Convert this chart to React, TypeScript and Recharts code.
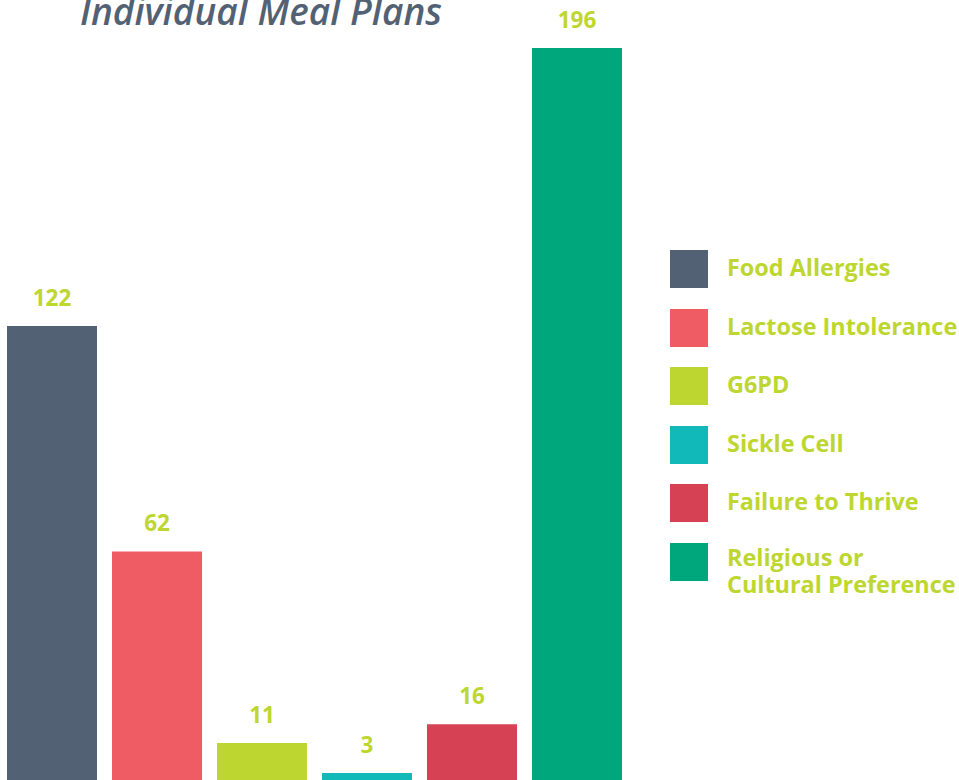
import { BarChart, Bar, XAxis, YAxis, Cell, LabelList } from 'recharts'

const categories = [
  'Food Allergies',
  'Lactose Intolerance',
  'G6PD',
  'Sickle Cell',
  'Failure to Thrive',
  'Religious or\nCultural Preference',
]
const plans = [122, 62, 11, 3, 16, 196]
const colors = ['#526173', '#ef5c64', '#bed630', '#12b9b9', '#d64253', '#00a77d']

const LABEL_COLOR = '#bed630'
const FONT = '"Open Sans", sans-serif'

const data = categories.map((name, i) => ({ name, value: plans[i] }))

// legend kept outside recharts so it doesn't eat into the plot height
function MealLegend() {
  return (
    <div style={{ position: 'absolute', left: 670, top: 250, width: 289, fontFamily: FONT }}>
      {categories.map((name, i) => (
        <div key={name} style={{ display: 'flex', alignItems: 'flex-start', height: 58.6 }}>
          <div style={{ width: 38, height: 38, background: colors[i], flexShrink: 0 }} />
          <div
            style={{
              marginLeft: 19,
              color: LABEL_COLOR,
              fontSize: 23.4,
              fontWeight: 700,
              lineHeight: '27.5px',
              whiteSpace: 'pre',
              marginTop: i === categories.length - 1 ? 1 : 4,
            }}
          >
            {name}
          </div>
        </div>
      ))}
    </div>
  )
}

export default function App() {
  return (
    <div
      style={{
        position: 'absolute',
        left: 0,
        top: 0,
        width: 959,
        height: 780,
        overflow: 'hidden',
        background: '#fff',
      }}
    >
      <div
        style={{
          position: 'absolute',
          left: 80,
          top: -15,
          fontFamily: FONT,
          fontStyle: 'italic',
          fontWeight: 600,
          fontSize: 37,
          color: '#526173',
          whiteSpace: 'nowrap',
        }}
      >
        Individual Meal Plans
      </div>
      <BarChart
        width={959}
        height={800}
        data={data}
        margin={{ top: 33, right: 330, left: -1, bottom: 15.7 }}
        barSize={90}
      >
        <XAxis dataKey="name" hide />
        <YAxis hide domain={[0, 200]} />
        <Bar dataKey="value" isAnimationActive={false}>
          {data.map((d, i) => (
            <Cell key={d.name} fill={colors[i]} />
          ))}
          <LabelList
            dataKey="value"
            position="top"
            offset={20}
            fill={LABEL_COLOR}
            fontSize={22.5}
            fontWeight={700}
            fontFamily={FONT}
          />
        </Bar>
      </BarChart>
      <MealLegend />
    </div>
  )
}
